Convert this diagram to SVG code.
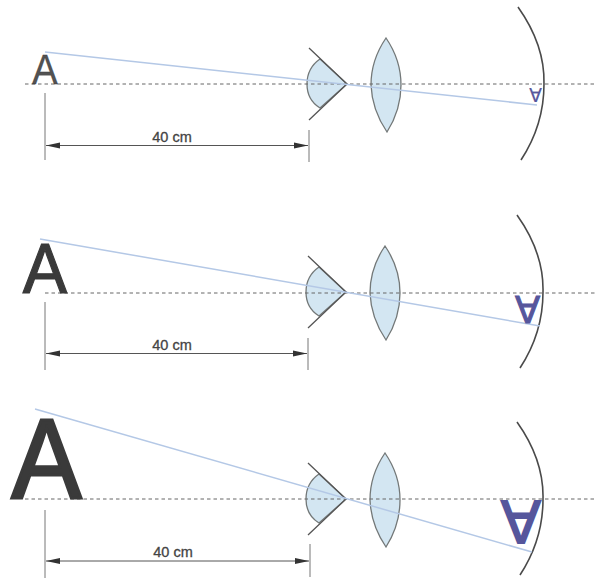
<svg xmlns="http://www.w3.org/2000/svg" width="595" height="579" viewBox="0 0 595 579">
<style>
.axis{stroke:#666;stroke-width:1;stroke-dasharray:3.5 3;fill:none}
.ray{stroke:#b4c8e6;stroke-width:1.5;fill:none}
.tissue{fill:#d3e6f2;stroke:#737878;stroke-width:1.3}
.edge{stroke:#555;stroke-width:1.3;fill:none}
.retina{stroke:#4a4a4a;stroke-width:1.6;fill:none}
.ext{stroke:#777;stroke-width:1;fill:none}
.dim{stroke:#555;stroke-width:1;fill:none;marker-start:url(#a);marker-end:url(#b)}
.lbl{font:14.5px "Liberation Sans",Arial,sans-serif;fill:#444;stroke:#444;stroke-width:.3;text-anchor:middle}
.obj{font-family:"Liberation Sans",Arial,sans-serif;fill:#3a3a3a;stroke:#3a3a3a;text-anchor:middle}
.img{font-family:"Liberation Sans",Arial,sans-serif;fill:#56569c;stroke:#56569c;text-anchor:middle}
</style>
<defs>
<marker id="a" markerUnits="userSpaceOnUse" markerWidth="15" markerHeight="7" refX="0" refY="3.5" orient="auto"><path d="M0 3.5L14 .5V6.500Z" fill="#333"/></marker>
<marker id="b" markerUnits="userSpaceOnUse" markerWidth="15" markerHeight="7" refX="14" refY="3.5" orient="auto"><path d="M14 3.500L0 .5V6.500Z" fill="#333"/></marker>
<g id="eye">
<path class="tissue" d="M320 59Q307 68 307 84Q307 100 320 108L347 84Z"/>
<path class="tissue" d="M386 38Q371 60 371 85Q372 110 387 132Q401 110 401 85Q401 60 386 38Z"/>
<path class="edge" d="M309 48L347 84L309 120"/>
<path class="retina" d="M518 7Q545 45 544 84Q544 125 521 160"/>
</g>
</defs>
<g id="panel-1">
<use href="#eye"/>
<path class="axis" d="M25 84H595"/>
<path class="ray" d="M45 52L537 105"/>
<text class="obj" transform="translate(45 83.500) scale(.92 1)" font-size="42" stroke-width=".3" fill-opacity=".9">A</text>
<text class="img" transform="translate(535.500 87.500) scale(.9 -1)" font-size="21" stroke-width=".2">A</text>
<path class="ext" d="M45 93V160M309 130V162"/>
<path class="dim" d="M46 145.500H308"/>
<text class="lbl" x="172" y="142">40 cm</text>
</g>
<g id="panel-2">
<use href="#eye" transform="translate(-1 208)"/>
<path class="axis" d="M45 293H595"/>
<path class="ray" d="M40 239L540 326"/>
<text class="obj" transform="translate(45 292.500) scale(.95 1)" font-size="70" stroke-width="1.200">A</text>
<text class="img" transform="translate(527.500 296) scale(.95 -1)" font-size="39" stroke-width="1.200">A</text>
<path class="ext" d="M45 302V370M308 338V370"/>
<path class="dim" d="M46 353.500H307"/>
<text class="lbl" x="172" y="350">40 cm</text>
</g>
<g id="panel-3">
<use href="#eye" transform="translate(-1 415)"/>
<path class="axis" d="M25 499H595"/>
<path class="ray" d="M35 409L532 552"/>
<text class="obj" transform="translate(46.500 498) scale(.92 1)" font-size="114" stroke-width="3">A</text>
<text class="img" transform="translate(521 501) scale(.95 -1)" font-size="62" stroke-width="2">A</text>
<path class="ext" d="M45 510V578M310 544V577"/>
<path class="dim" d="M46 561H309"/>
<text class="lbl" x="173" y="557">40 cm</text>
</g>
</svg>
